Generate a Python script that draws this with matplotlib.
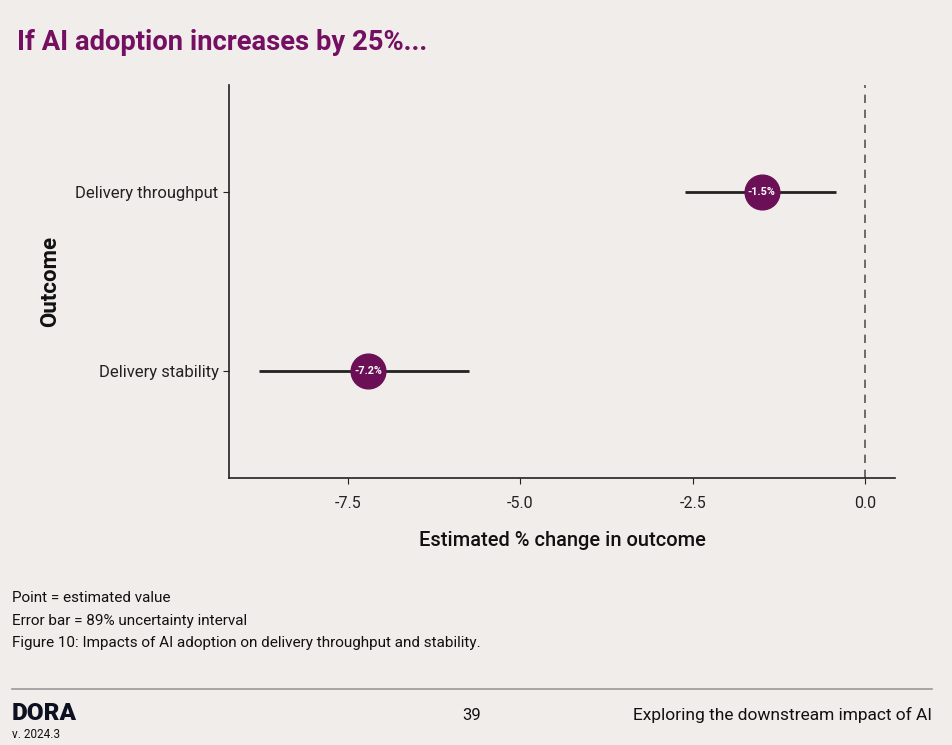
import matplotlib.pyplot as plt
import numpy as np

plt.rcParams['font.family'] = ['Roboto', 'DejaVu Sans']

# data
outcomes = ['Delivery throughput', 'Delivery stability']
estimates = [-1.5, -7.2]
lower = [-2.62, -8.78]
upper = [-0.43, -5.74]
point_labels = ['-1.5%', '-7.2%']
xticks = [-7.5, -5.0, -2.5, 0.0]

bg = '#f1edea'
purple = '#6b0f57'
title_col = '#750f62'

fig = plt.figure(figsize=(9.52, 7.45), dpi=100, facecolor=bg)
ax = fig.add_axes([229 / 952, 1 - 478 / 745, (895 - 229) / 952, (478 - 85) / 745])
ax.set_facecolor(bg)

ypos = np.arange(1, len(outcomes) + 1)
ax.axvline(0, color='#555555', lw=1.2, ls=(0, (5, 4)), zorder=1)
ax.hlines(ypos, lower, upper, color='#222222', lw=2, zorder=2)
ax.plot(estimates, ypos, 'o', ms=25, color=purple, zorder=3)
for x, y, t in zip(estimates, ypos, point_labels):
    ax.text(x, y, t, color='white', fontsize=7.8, fontweight='bold',
            ha='center', va='center', zorder=4)

ax.set_xlim(-9.22, 0.43)
ax.set_ylim(2.6, 0.4)
ax.set_yticks(ypos)
ax.set_yticklabels(outcomes, fontsize=12, color='#222222')
ax.set_xticks(xticks)
ax.set_xticklabels(['%.1f' % v for v in xticks], fontsize=11.5, color='#222222')
ax.tick_params(axis='both', color='#222222', length=4)
ax.tick_params(axis='x', pad=9)
for s in ['top', 'right']:
    ax.spines[s].set_visible(False)
for s in ['left', 'bottom']:
    ax.spines[s].set_color('#222222')
    ax.spines[s].set_linewidth(1.2)

ax.set_xlabel('Estimated % change in outcome', fontsize=14.4, fontweight='medium',
              labelpad=14, color='#111111')
ax.set_ylabel('Outcome', fontsize=16, fontweight='bold', labelpad=10, color='#111111')

fig.text(17 / 952, 1 - 42 / 745, 'If AI adoption increases by 25%...', fontsize=19.7,
         fontweight='bold', color=title_col, va='center')

notes = ['Point = estimated value',
         'Error bar = 89% uncertainty interval',
         'Figure 10: Impacts of AI adoption on delivery throughput and stability.']
for i, n in enumerate(notes):
    fig.text(12 / 952, 1 - (598 + i * 22.5) / 745, n, fontsize=11.0,
             color='#111111', va='center')

fig.add_artist(plt.Line2D([12 / 952, 932 / 952], [1 - 689 / 745] * 2,
                          color='#999999', lw=1.2))
fig.text(12 / 952, 1 - 714 / 745, 'DORA', fontsize=17.5, fontweight='black',
         color='#0d1020', va='center')
fig.text(12 / 952, 1 - 735 / 745, 'v. 2024.3', fontsize=8.5, color='#111111', va='center')
fig.text(472 / 952, 1 - 715 / 745, '39', fontsize=12, color='#111111',
         va='center', ha='center')
fig.text(932 / 952, 1 - 715 / 745, 'Exploring the downstream impact of AI',
         fontsize=12.5, color='#111111', va='center', ha='right')

fig.savefig('out.png', dpi=100, facecolor=bg)
